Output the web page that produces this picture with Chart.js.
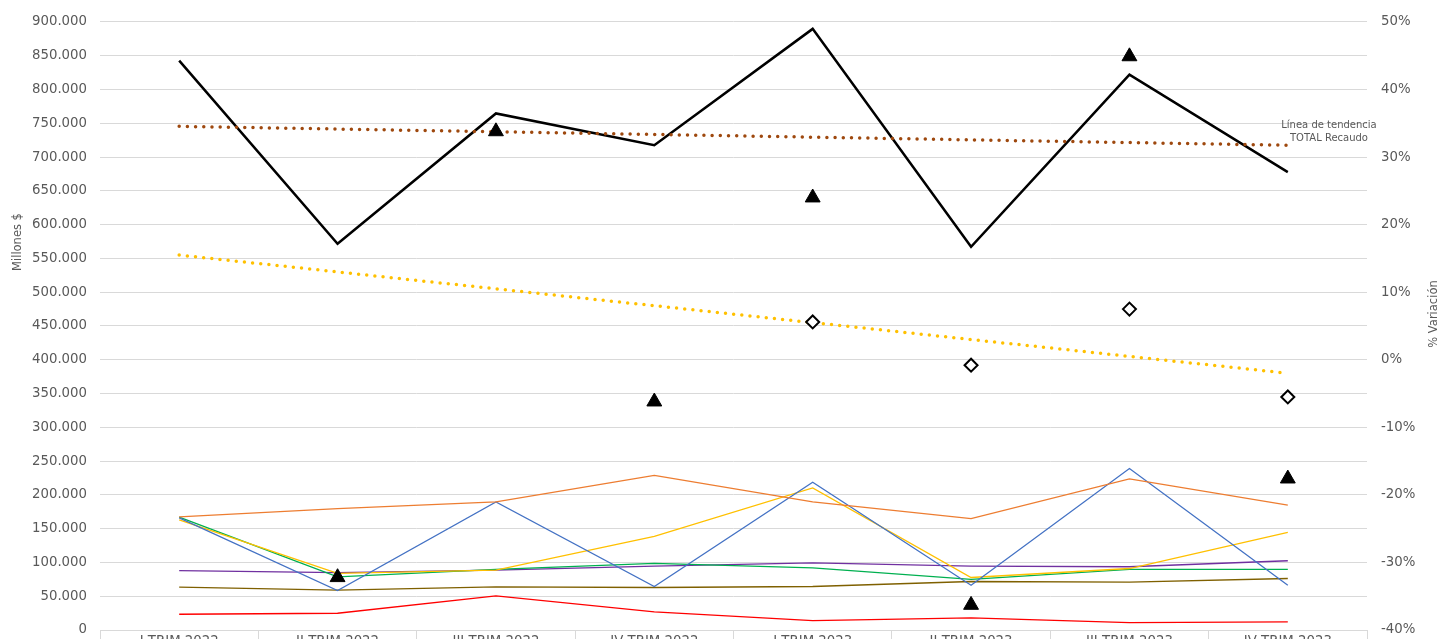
<!DOCTYPE html>
<html lang="es">
<head>
<meta charset="utf-8">
<title>Recaudo trimestral</title>
<script src="https://cdn.jsdelivr.net/npm/chart.js@4.4.1/dist/chart.umd.min.js"></script>
<style>
    html, body { margin: 0; padding: 0; background: #fff; overflow: hidden; }
    #chart-box { position: relative; width: 1441px; height: 680px; }
</style>
</head>
<body>
<div id="chart-box"><canvas id="recaudo-chart"></canvas></div>
<script>
// Trimestres
const categories = ['I TRIM 2022', 'II TRIM 2022', 'III TRIM 2022', 'IV TRIM 2022',
                    'I TRIM 2023', 'II TRIM 2023', 'III TRIM 2023', 'IV TRIM 2023'];

// Millones $ (eje izquierdo)
const totalRecaudo = [842700, 571600, 764600, 717500, 889800, 567200, 822000, 677700];
const serieAzul     = [166000, 58400, 189600, 64400, 218800, 66300, 239000, 66300];
const serieNaranja  = [167300, 179700, 189600, 229000, 189600, 164900, 223800, 184700];
const serieAmarilla = [163000, 83700, 88600, 138600, 210400, 77700, 91000, 144600];
const serieVerde    = [167000, 78700, 89600, 98500, 92000, 74800, 89600, 89600];
const serieMorada   = [88000, 85000, 88600, 94600, 99500, 94600, 93600, 102500];
const serieOliva    = [63400, 58900, 63900, 62900, 64400, 71800, 70800, 76200];
const serieRoja     = [23300, 24800, 50500, 26700, 13900, 17800, 10900, 11900];

// Líneas de tendencia
const tendenciaTotal    = [745500, 741500, 737500, 733500, 729500, 725500, 721500, 717500];
const tendenciaAmarilla = [555000, 530000, 505000, 480000, 455000, 430000, 405000, 380000];

// % Variación (eje derecho)
const variacionTrimestral = [null, -32.2, 33.8, -6.2, 24.0, -36.3, 44.9, -17.6];
const variacionAnual      = [null, null, null, null, 5.6, -0.8, 7.5, -5.5];

const textColor = '#595959';
const gridColor = '#d9d9d9';
const fontFamily = '"DejaVu Sans", Verdana, sans-serif';

function milesConPunto(v) {
    return String(v).replace(/\B(?=(\d{3})+(?!\d))/g, '.');
}

function thinLine(label, data, color) {
    return {
        label: label,
        data: data,
        borderColor: color,
        backgroundColor: color,
        borderWidth: 1.3,
        pointRadius: 0,
        tension: 0,
        yAxisID: 'y',
    };
}

function dottedLine(label, data, color) {
    return {
        label: label,
        data: data,
        borderColor: color,
        borderWidth: 3.5,
        borderDash: [0, 8.2],
        borderCapStyle: 'round',
        pointRadius: 0,
        yAxisID: 'y',
    };
}

// Axis titles and trend label drawn by hand (right title reads upward)
const textosExtra = {
    id: 'textosExtra',
    afterDraw(chart) {
        const ctx = chart.ctx;
        ctx.save();
        ctx.fillStyle = textColor;
        ctx.textAlign = 'center';
        ctx.textBaseline = 'middle';

        ctx.font = '11.5px ' + fontFamily;
        ctx.save();
        ctx.translate(18, 242);
        ctx.rotate(-Math.PI / 2);
        ctx.fillText('Millones $', 0, 0);
        ctx.restore();

        ctx.save();
        ctx.translate(1434, 314);
        ctx.rotate(-Math.PI / 2);
        ctx.fillText('% Variación', 0, 0);
        ctx.restore();

        ctx.font = '10px ' + fontFamily;
        ctx.fillText('Línea de tendencia', 1329, 125);
        ctx.fillText('TOTAL Recaudo', 1329, 138);
        ctx.restore();
    }
};

const ctx = document.getElementById('recaudo-chart').getContext('2d');
new Chart(ctx, {
    type: 'line',
    data: {
        labels: categories,
        datasets: [
            {
                label: 'Var. trimestral',
                data: variacionTrimestral,
                showLine: false,
                pointStyle: 'triangle',
                pointRadius: 8.6,
                pointBackgroundColor: '#000',
                pointBorderColor: '#000',
                pointBorderWidth: 1,
                yAxisID: 'y1',
                order: 0,
            },
            {
                label: 'Var. anual',
                data: variacionAnual,
                showLine: false,
                pointStyle: 'rectRot',
                pointRadius: 6.5,
                pointBackgroundColor: '#fff',
                pointBorderColor: '#000',
                pointBorderWidth: 2,
                yAxisID: 'y1',
                order: 0,
            },
            {
                label: 'TOTAL Recaudo',
                data: totalRecaudo,
                borderColor: '#000',
                borderWidth: 2.5,
                pointRadius: 0,
                yAxisID: 'y',
                order: 1,
            },
            dottedLine('Tendencia TOTAL Recaudo', tendenciaTotal, '#9e480e'),
            dottedLine('Tendencia', tendenciaAmarilla, '#ffc000'),
            thinLine('Concepto 1', serieNaranja, '#ed7d31'),
            thinLine('Concepto 2', serieAzul, '#4472c4'),
            thinLine('Concepto 3', serieAmarilla, '#ffc000'),
            thinLine('Concepto 4', serieVerde, '#00b050'),
            thinLine('Concepto 5', serieMorada, '#7030a0'),
            thinLine('Concepto 6', serieOliva, '#7f6000'),
            thinLine('Concepto 7', serieRoja, '#ff0000'),
        ],
    },
    options: {
        responsive: true,
        maintainAspectRatio: false,
        animation: false,
        layout: { padding: { top: 18, left: 0, right: 0, bottom: 0 } },
        plugins: {
            legend: { display: false },
            tooltip: { enabled: false },
        },
        scales: {
            x: {
                offset: true,
                grid: {
                    offset: true,
                    drawOnChartArea: false,
                    color: gridColor,
                    tickLength: 12,
                },
                border: { color: gridColor },
                ticks: {
                    color: textColor,
                    font: { family: fontFamily, size: 13.3 },
                    padding: -8,
                    maxRotation: 0,
                    autoSkip: false,
                },
                afterFit(scale) { scale.height = 50; },
            },
            y: {
                position: 'left',
                min: 0,
                max: 900000,
                grid: { color: gridColor, drawTicks: false },
                border: { display: false },
                ticks: {
                    stepSize: 50000,
                    color: textColor,
                    padding: 13,
                    font: { family: fontFamily, size: 13.3 },
                    callback: (v) => milesConPunto(v),
                },
                afterFit(scale) { scale.width = 100; },
            },
            y1: {
                position: 'right',
                min: -40,
                max: 50,
                grid: { drawOnChartArea: false, drawTicks: false },
                border: { display: false },
                ticks: {
                    stepSize: 10,
                    color: textColor,
                    padding: 14,
                    font: { family: fontFamily, size: 13.3 },
                    callback: (v) => v + '%',
                },
                afterFit(scale) { scale.width = 74; },
            },
        },
    },
    plugins: [textosExtra],
});
</script>
</body>
</html>
